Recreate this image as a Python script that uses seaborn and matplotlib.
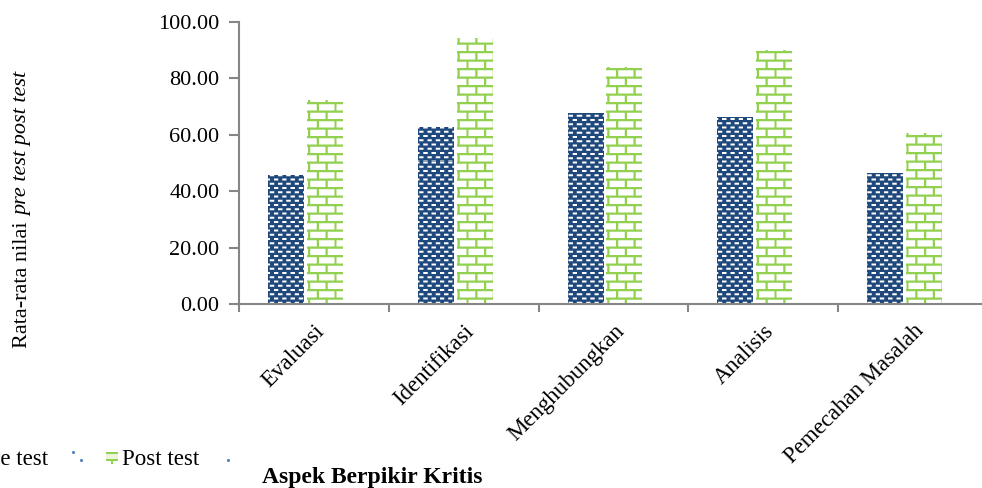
import numpy as np
import pandas as pd
import matplotlib
matplotlib.use("Agg")
import matplotlib.pyplot as plt
import seaborn as sns
from matplotlib.patches import Rectangle
from matplotlib.lines import Line2D

# ---------------- data ----------------
categories = ["Evaluasi", "Identifikasi", "Menghubungkan", "Analisis", "Pemecahan Masalah"]
pre_test = [45.7, 62.9, 67.6, 66.4, 46.3]
post_test = [72.3, 94.2, 83.9, 90.0, 60.7]
series = ["Pre test", "Post test"]
y_ticks = [0, 20, 40, 60, 80, 100]
x_title = "Aspek Berpikir Kritis"
y_title_plain = "Rata-rata nilai"
y_title_italic = "pre test post test"

# ---------------- style ----------------
W, H, DPI = 982, 488, 100
BLUE = "#1F497D"
GREEN = "#92D050"
AXIS = "#868686"
FS = 16.5

sns.set_theme(style="white")
plt.rcParams["font.family"] = ["Liberation Serif", "DejaVu Serif"]
plt.rcParams["text.color"] = "black"

df = pd.DataFrame({
    "Aspek": categories * 2,
    "Nilai": pre_test + post_test,
    "Seri": [series[0]] * len(categories) + [series[1]] * len(categories),
})

fig = plt.figure(figsize=(W / DPI, H / DPI), dpi=DPI)
ax_l, ax_r, ax_t, ax_b = 239, 988, 22, 304
ax = fig.add_axes([ax_l / W, 1 - ax_b / H, (ax_r - ax_l) / W, (ax_b - ax_t) / H])

sns.barplot(data=df, x="Aspek", y="Nilai", hue="Seri", order=categories,
            hue_order=series, palette=[BLUE, GREEN], width=0.52, gap=0.077,
            linewidth=0, saturation=1, errorbar=None, legend=False, ax=ax)

shift = 0.057
n = len(categories)
xlim = (-0.5 + shift, n - 0.5 + shift)
ax.set_xlim(*xlim)
ax.set_ylim(0, 100)

# axes styling
for s in ["top", "right"]:
    ax.spines[s].set_visible(False)
for s in ["left", "bottom"]:
    ax.spines[s].set_color(AXIS)
    ax.spines[s].set_linewidth(1.5)
ax.set_xlabel("")
ax.set_ylabel("")

ax.set_yticks(y_ticks, labels=[f"{v:.2f}" for v in y_ticks])
ax.tick_params(axis="y", left=True, direction="out", length=7, width=1.5,
               color=AXIS, pad=7, labelsize=FS - 0.5, labelcolor="black")

bounds = np.arange(n + 1) - 0.5 + shift
centers = np.arange(n) + shift
ax.set_xticks(bounds, labels=[""] * len(bounds))
ax.set_xticks(centers, labels=categories, minor=True)
ax.tick_params(axis="x", which="major", bottom=True, direction="out", length=6,
               width=1.5, color=AXIS)
ax.tick_params(axis="x", which="minor", bottom=True, length=0, pad=12,
               labelsize=FS, labelcolor="black")
for lbl in ax.get_xticklabels(minor=True):
    lbl.set_rotation(45)
    lbl.set_ha("right")
    lbl.set_va("top")
    lbl.set_rotation_mode("anchor")

# ---------------- pattern fills (Excel-like) ----------------
fig.canvas.draw()
bb = ax.get_window_extent()
nx, ny = int(round(bb.width)), int(round(bb.height))
ss = 4
cols = (np.arange(nx * ss) + 0.5) / ss
rows = (np.arange(ny * ss) + 0.5) / ss
XG, YG = np.meshgrid(bb.x0 + cols, (H - bb.y1) + rows)


def coverage(mask):
    return mask.reshape(ny, ss, nx, ss).mean(axis=(1, 3))


def brick_mask(x, y, R=8.5, t=2.2, B=17.6):
    r = np.floor(y / R)
    hor = np.mod(y, R) < t
    xs = x + np.mod(r, 2) * B / 2
    ver = np.mod(xs, B) < t
    return hor | ver


def dash_mask(x, y, P=4.25, h=1.9, D=8.3, L=4.4):
    r = np.floor(y / P)
    xs = x + np.mod(r, 2) * D / 2
    return (np.mod(y, P) < h) & (np.mod(xs, D) < L)


def to_rgb(hexc):
    return np.array(matplotlib.colors.to_rgb(hexc))


cd = coverage(dash_mask(XG, YG))[..., None]
img_pre = to_rgb(BLUE) * (1 - cd) + np.ones(3) * cd
cb = coverage(brick_mask(XG, YG))[..., None]
img_post = np.ones(3) * (1 - cb) + to_rgb(GREEN) * cb

for cont, img in zip(ax.containers, [img_pre, img_post]):
    for bar in cont:
        im = ax.imshow(img, extent=(xlim[0], xlim[1], 0, 100), origin="upper",
                       interpolation="nearest", aspect="auto", zorder=bar.get_zorder() + 0.1)
        im.set_clip_path(bar)
ax.set_xlim(*xlim)
ax.set_ylim(0, 100)

# ---------------- titles ----------------
fig.text(372 / W, 1 - 483 / H, x_title, ha="center", va="baseline",
         fontsize=FS + 0.5, fontweight="bold")

t1 = fig.text(27 / W, 1 - 348 / H, y_title_plain, rotation=90, rotation_mode="anchor",
              ha="left", va="baseline", fontsize=FS - 0.5)
fig.canvas.draw()
e1 = t1.get_window_extent(fig.canvas.get_renderer())
fig.text(27 / W, (e1.y1 + 5) / H, y_title_italic, rotation=90, rotation_mode="anchor",
         ha="left", va="baseline", fontsize=FS - 0.5, fontstyle="italic")

# ---------------- legend (partially cut off, as in the reference) ----------------
fig.text(48 / W, 1 - 465 / H, series[0], ha="right", va="baseline", fontsize=FS)
fig.text(122 / W, 1 - 465 / H, series[1], ha="left", va="baseline", fontsize=FS)


def fig_rect(x0, y0, w, h, color):
    fig.add_artist(Rectangle((x0 / W, 1 - (y0 + h) / H), w / W, h / H,
                             transform=fig.transFigure, facecolor=color,
                             edgecolor="none", lw=0))


fig_rect(106, 452, 12, 2, GREEN)
fig_rect(106, 459, 12, 2, GREEN)
fig_rect(111, 461, 2, 2.5, GREEN)
fig_rect(106, 454, 12, 5, "#EAF5DC")
for (px, py) in [(73, 452), (81, 460), (228, 460)]:
    fig.add_artist(Line2D([px / W], [1 - py / H], marker="o", ms=1.2, color="#4F81BD",
                          transform=fig.transFigure, lw=0))

fig.savefig("out.png", dpi=DPI)
